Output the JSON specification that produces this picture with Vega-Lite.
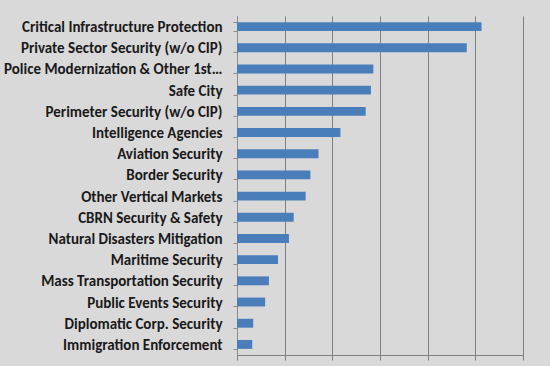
{
  "$schema": "https://vega.github.io/schema/vega-lite/v6.json",
  "autosize": "none",
  "width": 286,
  "height": 339,
  "padding": {"left": 237, "top": 16, "right": 27, "bottom": 11},
  "background": "#D9D9D9",
  "data": {
    "values": [
      {"segment": "Critical Infrastructure Protection", "value": 5.13},
      {"segment": "Private Sector Security (w/o CIP)", "value": 4.82},
      {"segment": "Police Modernization & Other 1st…", "value": 2.86},
      {"segment": "Safe City", "value": 2.81},
      {"segment": "Perimeter Security (w/o CIP)", "value": 2.70},
      {"segment": "Intelligence Agencies", "value": 2.17},
      {"segment": "Aviation Security", "value": 1.71},
      {"segment": "Border Security", "value": 1.54},
      {"segment": "Other Vertical Markets ", "value": 1.44},
      {"segment": "CBRN Security & Safety", "value": 1.19},
      {"segment": "Natural Disasters Mitigation", "value": 1.09},
      {"segment": "Maritime Security", "value": 0.86},
      {"segment": "Mass Transportation Security", "value": 0.67},
      {"segment": "Public Events Security", "value": 0.59},
      {"segment": "Diplomatic Corp. Security", "value": 0.34},
      {"segment": "Immigration Enforcement", "value": 0.32}
    ]
  },
  "config": {
    "view": {"stroke": null},
    "font": "Liberation Sans"
  },
  "mark": {"type": "bar", "color": "#4A7EBB"},
  "encoding": {
    "y": {
      "field": "segment",
      "type": "nominal",
      "sort": null,
      "title": null,
      "scale": {"paddingInner": 0.58, "paddingOuter": 0.29},
      "axis": {
        "tickBand": "extent",
        "tickSize": 4,
        "tickColor": "#8C8C8C",
        "domainColor": "#8C8C8C",
        "labelFont": "Carlito, Liberation Sans Narrow, Liberation Sans",
        "labelFontSize": 15,
        "labelFontWeight": "bold",
        "labelColor": "#1A1A1A",
        "labelPadding": 11,
        "labelLimit": 300,
        "grid": false
      }
    },
    "x": {
      "field": "value",
      "type": "quantitative",
      "title": null,
      "scale": {"domain": [0, 6], "nice": false},
      "axis": {
        "values": [0, 1, 2, 3, 4, 5, 6],
        "labels": false,
        "grid": true,
        "gridColor": "#7F7F7F",
        "gridWidth": 1,
        "tickSize": 5,
        "tickColor": "#7F7F7F",
        "domainColor": "#7F7F7F"
      }
    }
  }
}
